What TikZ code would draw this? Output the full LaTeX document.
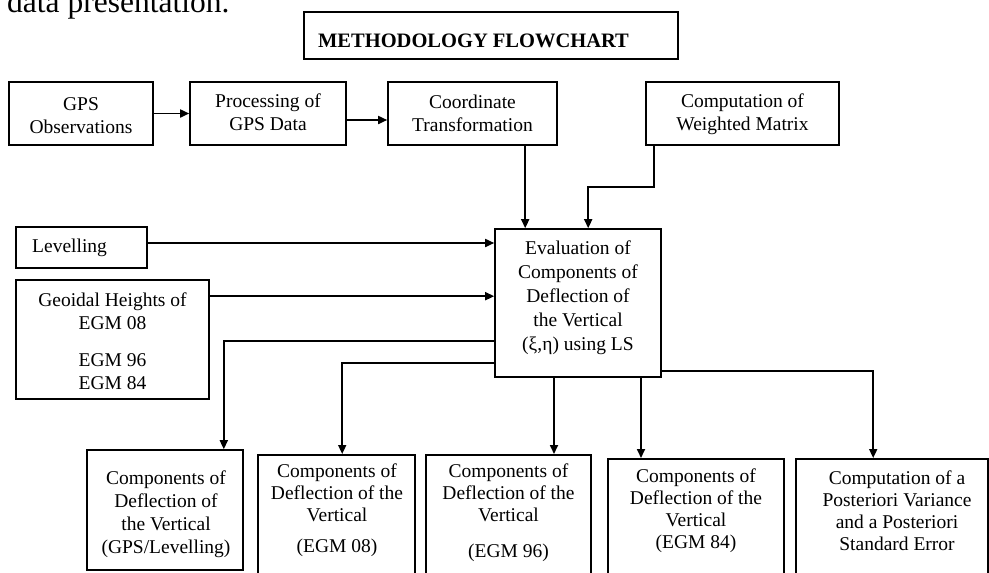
\documentclass[tikz,border=0pt]{standalone}
\usepackage{fontspec}
\setmainfont{Liberation Serif}
\usetikzlibrary{arrows.meta,positioning,calc}
\tikzset{
  box/.style={draw,line width=1.6pt,inner sep=0pt},
  txt/.style={align=center,inner sep=0pt,font=\fontsize{19.5}{23}\selectfont},
  arr/.style={line width=1.7pt,-{Triangle[length=9pt,width=8pt]}},
}

\begin{document}
\begin{tikzpicture}[x=1pt,y=-1pt]
  \useasboundingbox (0,0) rectangle (989,573);
  % end of the text line above the chart
  \node[anchor=base west,inner sep=0pt,font=\fontsize{31.5}{36}\selectfont] (prev) at (7,12) {data presentation.};
  % title
  \node[box,minimum width=374pt,minimum height=47pt] (title) at (491,35.5) {};
  \node[inner sep=0pt,font=\fontsize{20.5}{24}\selectfont\bfseries] (titletxt) at (473.5,41) {METHODOLOGY FLOWCHART};
  % top row
  \node[box,minimum width=144pt,minimum height=63pt] (gps) at (81,113.5) {};
  \node[txt] (gpst) at (81,115.5) {GPS\\Observations};
  \node[box,minimum width=156pt,minimum height=63pt] (proc) at (268,113.5) {};
  \node[txt] (proct) at (268,112.5) {Processing of\\GPS Data};
  \node[box,minimum width=169pt,minimum height=63pt] (coord) at (472.5,113.5) {};
  \node[txt] (coordt) at (472.5,113.5) {Coordinate\\Transformation};
  \node[box,minimum width=193pt,minimum height=63pt] (weight) at (742.5,113.5) {};
  \node[txt] (weightt) at (742.5,114) {Computation of\\Weighted Matrix};
  % inputs on the left
  \node[box,minimum width=131pt,minimum height=41pt] (lev) at (81.5,247.5) {};
  \node[txt,anchor=west] (levt) at (32,248) {Levelling};
  \node[box,minimum width=193pt,minimum height=119pt] (geo) at (112.5,339.5) {};
  \node[txt] (geot) at (112.5,341) {Geoidal Heights of\\EGM 08\\[14pt]EGM 96\\EGM 84};
  % central box
  \node[box,minimum width=166pt,minimum height=148pt] (eval) at (578,303) {};
  \node[txt,font=\fontsize{19.5}{24}\selectfont] (evalt) at (578,298)
    {Evaluation of\\Components of\\Deflection of\\the Vertical\\(ξ,η) using LS};
  % bottom row
  \node[box,minimum width=156pt,minimum height=120pt] (gpslev) at (165,510) {};
  \node[txt] (gpslevt) at (166,514.5) {Components of\\Deflection of\\the Vertical\\(GPS/Levelling)};
  \node[box,anchor=north,minimum width=157pt,minimum height=150pt] (egm08) at (336.5,454) {};
  \node[txt,font=\fontsize{19.5}{22}\selectfont] (egm08t) at (337,510.5) {Components of\\Deflection of the\\Vertical\\[9pt](EGM 08)};
  \node[box,anchor=north,minimum width=165pt,minimum height=150pt] (egm96) at (508.5,454) {};
  \node[txt,font=\fontsize{19.5}{22}\selectfont] (egm96t) at (508.5,513) {Components of\\Deflection of the\\Vertical\\[14pt](EGM 96)};
  \node[box,anchor=north,minimum width=176pt,minimum height=150pt] (egm84) at (696,458) {};
  \node[txt,font=\fontsize{19.5}{22}\selectfont] (egm84t) at (696,510.5) {Components of\\Deflection of the\\Vertical\\(EGM 84)};
  \node[box,anchor=north,minimum width=192pt,minimum height=150pt] (post) at (892,458) {};
  \node[txt,font=\fontsize{19.5}{22}\selectfont] (postt) at (897,510.5) {Computation of a\\Posteriori Variance\\and a Posteriori\\Standard Error};

  % connectors
  \draw[arr] (gps.east) -- (proc.west);
  \draw[arr] ([yshift=-6.5pt]proc.east) -- ([yshift=-6.5pt]coord.west);
  \draw[arr] ([xshift=31pt]eval.north west |- coord.south) -- ([xshift=31pt]eval.north west);
  \draw[arr] ([xshift=9pt]weight.south west) -- ++(0,41) -| ([xshift=94pt]eval.north west);
  \draw[arr] ([yshift=4.5pt]lev.east) -- ([yshift=4.5pt]lev.east -| eval.west);
  \draw[arr] ([yshift=-17pt]geo.north east) -- ([yshift=-17pt]geo.north east -| eval.west);
  \draw[arr] ([yshift=37pt]eval.south west) -| ([xshift=-20pt]gpslev.north east);
  \draw[arr] ([yshift=15pt]eval.south west) -| ([xshift=85pt]egm08.north west);
  \draw[arr] ([xshift=-24pt]eval.south) -- ([xshift=-24pt]eval.south |- egm96.north);
  \draw[arr] ([xshift=63pt]eval.south) -- ([xshift=63pt]eval.south |- egm84.north);
  \draw[arr] ([yshift=7pt]eval.south east) -| ([xshift=78pt]post.north west);
\end{tikzpicture}
\end{document}
